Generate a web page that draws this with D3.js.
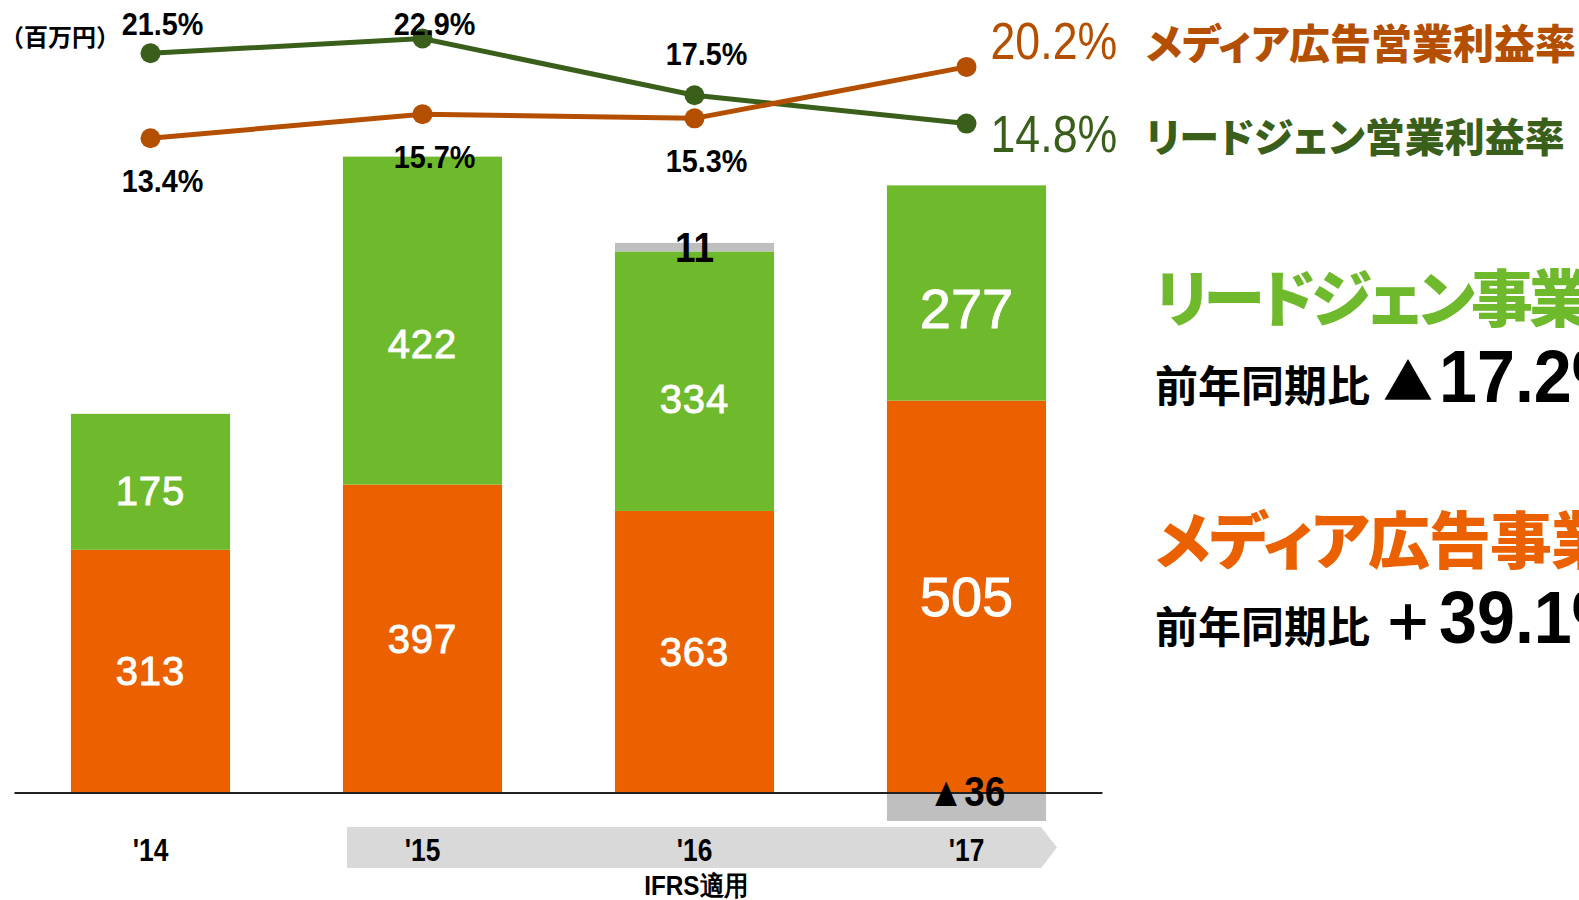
<!DOCTYPE html>
<html>
<head>
<meta charset="utf-8">
<script src="https://cdn.jsdelivr.net/npm/d3@7"></script>
<style>
  body { margin: 0; background: #fff; }
  .num { font-family: "Liberation Sans", Arial, sans-serif; }
  .jp { font-family: "Noto Sans CJK JP", sans-serif; font-weight: 900; font-feature-settings: "palt"; }
</style>
</head>
<body>
<svg width="1579" height="900"></svg>
<script>
const years = ["'14", "'15", "'16", "'17"];
const mediaProfit = [313, 397, 363, 505];
const leadgenProfit = [175, 422, 334, 277];
const otherProfit = [0, 0, 11, -36];
const otherLabels = ["", "", "11", "▲36"];
const mediaRate = [13.4, 15.7, 15.3, 20.2];
const leadgenRate = [21.5, 22.9, 17.5, 14.8];

const orange = '#eb6100', green = '#6fb92d', gray = '#bfbfbf';
const orangeLine = '#b44f00', greenLine = '#3a5f1b';

const svg = d3.select('svg');

const x = d3.scaleBand()
      .domain(years)
      .range([14.5, 1102.5])
      .paddingInner(0.415)
      .paddingOuter(0.2075);
const y = d3.scaleLinear().domain([0, 1000]).range([793, 16]);
const yRate = d3.scaleLinear().domain([0, 25]).range([279, 16.5]);
const cx = d => x(d) + x.bandwidth() / 2;
const tr = (px, py, sx) => `translate(${px},${py}) scale(${sx},1)`;

const rows = years.map((yr, i) => ({year: yr, media: mediaProfit[i], leadgen: leadgenProfit[i], other: otherProfit[i]}));
const stack = d3.stack().keys(['media', 'leadgen', 'other']).offset(d3.stackOffsetDiverging);
const series = stack(rows);
const fills = {media: orange, leadgen: green, other: gray};

// IFRS band arrow
const bandL = x("'15") + 4, bandR = x("'17") + x.bandwidth() - 5;
svg.append('path')
      .attr('d', `M${bandL},827 L${bandR},827 L${bandR + 16},847.5 L${bandR},868 L${bandL},868 Z`)
      .attr('fill', '#d9d9d9');

// bars
svg.append('g').selectAll('g')
      .data(series)
      .enter()
      .append('g')
      .attr('fill', s => fills[s.key])
      .selectAll('rect')
      .data(s => s)
      .enter()
      .append('rect')
      .attr('x', d => x(d.data.year))
      .attr('width', x.bandwidth())
      .attr('y', d => y(Math.max(d[0], d[1])))
      .attr('height', d => Math.abs(y(d[0]) - y(d[1])));

// baseline
svg.append('line')
      .attr('x1', x.range()[0]).attr('x2', x.range()[1])
      .attr('y1', y(0)).attr('y2', y(0))
      .attr('stroke', '#222').attr('stroke-width', 2);

// bar value labels
const segLabel = (key, frac) => {
      const s = series.find(d => d.key === key);
      svg.append('g').selectAll('text')
            .data(s)
            .enter()
            .append('text')
            .attr('class', 'num')
            .attr('x', d => cx(d.data.year))
            .attr('y', d => y(d[1]) + (y(d[0]) - y(d[1])) * frac)
            .attr('text-anchor', 'middle')
            .attr('dominant-baseline', 'central')
            .attr('fill', '#fff')
            .attr('stroke', '#fff')
            .attr('stroke-width', 0.9)
            .style('font-size', (d, i) => (i === 3 ? 56 : 40) + 'px')
            .style('letter-spacing', (d, i) => i === 3 ? '0px' : '1px')
            .text(d => d.data[key]);
};
segLabel('media', 0.5);
segLabel('leadgen', 0.57);

svg.append('g').selectAll('text')
      .data(otherLabels)
      .enter()
      .append('text')
      .attr('class', 'num')
      .attr('transform', (d, i) => tr(cx(years[i]), otherProfit[i] >= 0 ? y(mediaProfit[i] + leadgenProfit[i] + otherProfit[i]) + 19 : y(0) + 13, 0.88))
      .attr('text-anchor', 'middle')
      .style('font-size', '42px')
      .style('font-weight', 'bold')
      .attr('fill', '#000')
      .text(d => d);

// year labels
svg.append('g').selectAll('text')
      .data(years)
      .enter()
      .append('text')
      .attr('class', 'num')
      .attr('transform', d => tr(cx(d), 861, 0.85))
      .attr('text-anchor', 'middle')
      .style('font-size', '31px')
      .style('font-weight', 'bold')
      .text(d => d);

svg.append('text')
      .attr('class', 'num')
      .attr('transform', tr(cx("'16") + 2, 895, 0.9))
      .attr('text-anchor', 'middle')
      .style('font-size', '27px')
      .style('font-weight', 'bold')
      .text('IFRS適用');

// rate lines
const line = d3.line().x((d, i) => cx(years[i])).y(d => yRate(d));
[[leadgenRate, greenLine], [mediaRate, orangeLine]].forEach(([vals, col]) => {
      svg.append('path')
            .datum(vals)
            .attr('d', line)
            .attr('fill', 'none')
            .attr('stroke', col)
            .attr('stroke-width', 5);
      svg.append('g').selectAll('circle')
            .data(vals)
            .enter()
            .append('circle')
            .attr('cx', (d, i) => cx(years[i]))
            .attr('cy', d => yRate(d))
            .attr('r', 10)
            .attr('fill', col);
});

const pct = d => d3.format('.1f')(d) + '%';
svg.append('g').selectAll('text')
      .data(leadgenRate.slice(0, 3))
      .enter()
      .append('text')
      .attr('class', 'num')
      .attr('transform', (d, i) => tr(cx(years[i]) + 12, Math.max(35, yRate(d) - 30), 0.9))
      .attr('text-anchor', 'middle')
      .style('font-size', '32px')
      .style('font-weight', 'bold')
      .text(pct);
svg.append('g').selectAll('text')
      .data(mediaRate.slice(0, 3))
      .enter()
      .append('text')
      .attr('class', 'num')
      .attr('transform', (d, i) => tr(cx(years[i]) + 12, yRate(d) + 54, 0.9))
      .attr('text-anchor', 'middle')
      .style('font-size', '32px')
      .style('font-weight', 'bold')
      .text(pct);

// end-of-line labels
const endX = cx("'17") + 24;
[[mediaRate[3], orangeLine, -8, 'メディア広告営業利益率', 41],
 [leadgenRate[3], greenLine, 28, 'リードジェン営業利益率', 40]].forEach(([v, col, dy, name, fs]) => {
      svg.append('text')
            .attr('class', 'num')
            .attr('transform', tr(endX, yRate(v) + dy, 0.86))
            .attr('fill', col)
            .style('font-size', '52px')
            .text(pct(v));
      svg.append('text')
            .attr('class', 'jp')
            .attr('x', endX + 155)
            .attr('y', yRate(v) + dy)
            .attr('fill', col)
            .style('font-size', fs + 'px')
            .text(name);
});

// unit
svg.append('text')
      .attr('x', 0).attr('y', 46)
      .style('font-family', '"Noto Sans CJK JP", sans-serif')
      .style('font-weight', 'bold')
      .style('font-size', '24px')
      .text('（百万円）');

// right side summary
const side = svg.append('g').attr('transform', 'translate(1155,0)');
side.append('text').attr('class', 'jp').attr('x', 0).attr('y', 322)
      .attr('fill', green).style('font-size', '62px').style('letter-spacing', '-4px').text('リードジェン事業');
side.append('text').attr('class', 'jp').attr('x', 0).attr('y', 564)
      .attr('fill', orange).style('font-size', '62px').style('letter-spacing', '-1px').text('メディア広告事業');

[[402, '▲', '17.2%'], [643, '＋', '39.1%']].forEach(([by, sign, val]) => {
      side.append('text').attr('class', 'jp').attr('x', 0).attr('y', by)
            .style('font-size', '43px').style('font-weight', 'bold').text('前年同期比');
      side.append('text').attr('class', 'jp').attr('x', 228).attr('y', by - 2)
            .style('font-size', '50px').style('font-feature-settings', 'normal').text(sign);
      side.append('text').attr('class', 'num')
            .attr('transform', tr(284, by, 0.91))
            .style('font-size', '75px').style('font-weight', 'bold').text(val);
});
</script>
</body>
</html>
